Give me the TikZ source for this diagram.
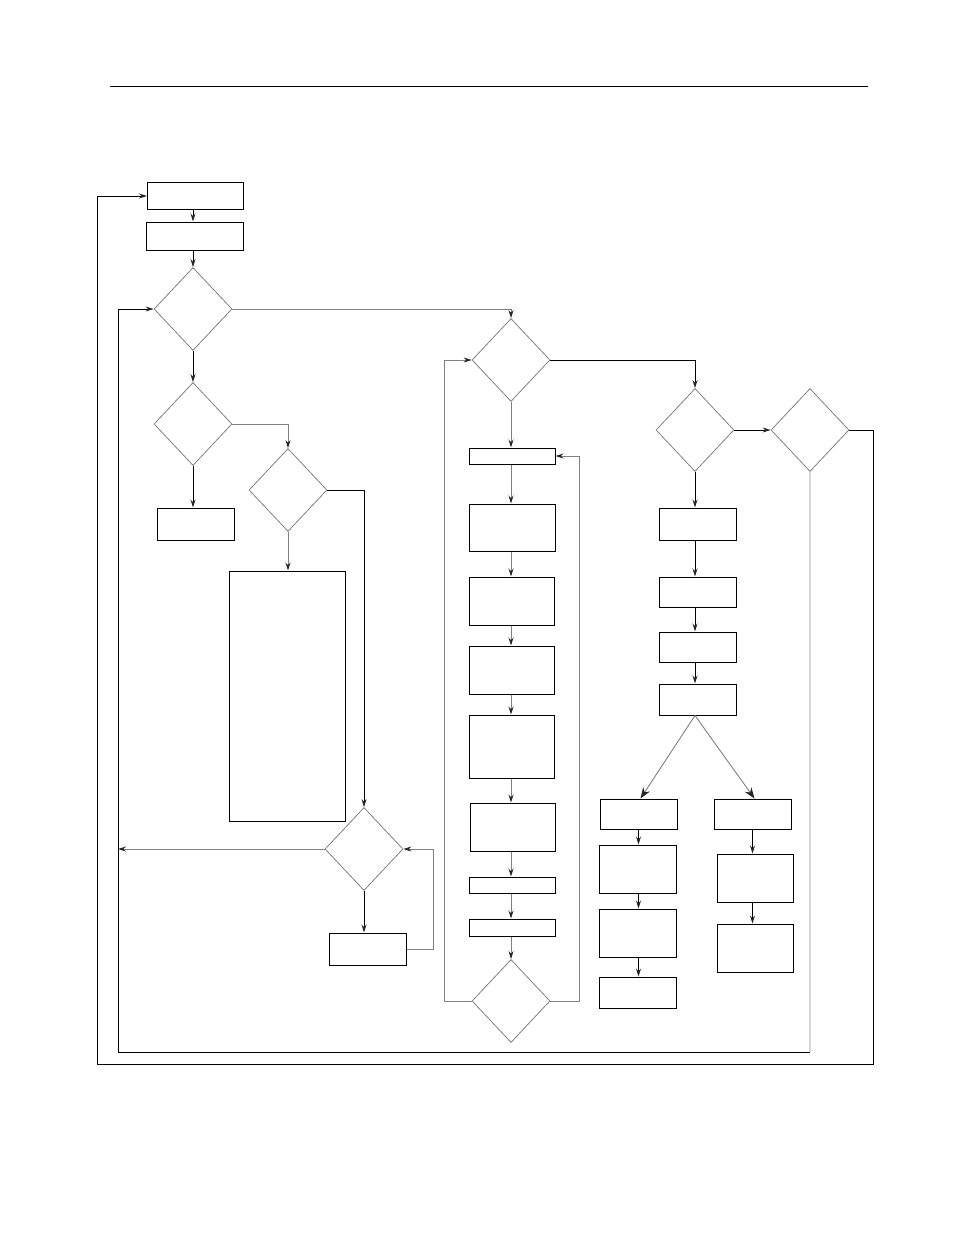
\documentclass[tikz,border=0pt]{standalone}
\usetikzlibrary{shapes.geometric,arrows.meta}
\definecolor{edgegray}{gray}{0.5}
\definecolor{palegray}{gray}{0.85}
\tikzset{
  blk/.style={draw,rectangle,inner sep=0pt,line width=1pt},
  dec/.style={draw=edgegray,diamond,inner sep=0pt,line width=0.8pt,
    minimum width=78pt,minimum height=83pt},
  flow/.style={->,line width=0.9pt},
}
\begin{document}
\begin{tikzpicture}[x=1pt,y=-1pt,>={Stealth[length=8pt,width=5pt,color=black!85]}]
    \useasboundingbox (0,0) rectangle (954,1235);
    \draw[line width=0.8pt] (110,86) -- (868,86);
    % left column
    \node[blk,minimum width=96pt,minimum height=27pt] (start) at (195.5,196) {};
    \node[blk,minimum width=97pt,minimum height=28pt] (init) at (194.5,236) {};
    \node[dec] (d1) at (193,309) {};
    \node[dec] (d3) at (193,424) {};
    \node[blk,minimum width=77pt,minimum height=32pt] (c) at (195.5,524) {};
    \node[dec] (d4) at (288,490) {};
    \node[blk,minimum width=116pt,minimum height=250pt] (e) at (287,696) {};
    \node[dec] (d5) at (364,849) {};
    \node[blk,minimum width=77pt,minimum height=32pt] (f) at (367.5,949) {};
    % middle column
    \node[dec] (d2) at (511,360) {};
    \node[blk,minimum width=86pt,minimum height=16pt] (g1) at (512,456) {};
    \node[blk,minimum width=86pt,minimum height=47pt] (g2) at (512,527.5) {};
    \node[blk,minimum width=85pt,minimum height=48pt] (g3) at (511.5,601) {};
    \node[blk,minimum width=85pt,minimum height=48pt] (g4) at (511.5,670) {};
    \node[blk,minimum width=85pt,minimum height=63pt] (g5) at (511.5,746.5) {};
    \node[blk,minimum width=85pt,minimum height=48pt] (g6) at (512.5,827) {};
    \node[blk,minimum width=86pt,minimum height=16pt] (g7) at (512,885) {};
    \node[blk,minimum width=86pt,minimum height=17pt] (g8) at (512,927.5) {};
    \node[dec] (d8) at (511,1001) {};
    % right column
    \node[dec] (d7) at (695,430) {};
    \node[dec] (d6) at (810,430) {};
    \node[blk,minimum width=77pt,minimum height=32pt] (h1) at (697.5,524) {};
    \node[blk,minimum width=77pt,minimum height=30pt] (h2) at (697.5,592) {};
    \node[blk,minimum width=77pt,minimum height=30pt] (h3) at (697.5,647) {};
    \node[blk,minimum width=77pt,minimum height=31pt] (h4) at (697.5,699.5) {};
    \node[blk,minimum width=77pt,minimum height=30pt] (i1) at (638.5,814) {};
    \node[blk,minimum width=77pt,minimum height=48pt] (i2) at (637.5,869) {};
    \node[blk,minimum width=77pt,minimum height=48pt] (i3) at (637.5,933) {};
    \node[blk,minimum width=77pt,minimum height=31pt] (i4) at (637.5,992.5) {};
    \node[blk,minimum width=77pt,minimum height=30pt] (j1) at (752.5,814) {};
    \node[blk,minimum width=76pt,minimum height=48pt] (j2) at (755,878) {};
    \node[blk,minimum width=76pt,minimum height=48pt] (j3) at (755,948) {};
    \coordinate (inner) at (118,1052);
    \coordinate (outer) at (97,1064);
    % connectors, left part
    \draw[flow] (d1.north |- start.south) -- (d1.north |- init.north);
    \draw[flow] (d1.north |- init.south) -- (d1.north);
    \draw[flow,edgegray] (d1.east) -| (d2.north);
    \draw[flow] (d1.south) -- (d3.north);
    \draw[flow] (d3.south) -- (d3.south |- c.north);
    \draw[flow,edgegray] (d3.east) -| (d4.north);
    \draw[flow,edgegray] (d4.south) -- (d4.south |- e.north);
    \draw[flow] (d4.east) -| (d5.north);
    \draw[flow] (d5.south) -- (d5.south |- f.north);
    \draw[flow,edgegray] (f.east) -- ++(27,0) |- (d5.east);
    \draw[flow,edgegray] (d5.west) -- (d5.west -| inner);
    % connectors, middle part
    \draw[flow] (d2.east) -| (d7.north);
    \draw[flow,edgegray] (d2.south) -- (d2.south |- g1.north);
    \foreach \a/\b in {g1/g2,g2/g3,g3/g4,g4/g5,g5/g6,g6/g7,g7/g8}
      \draw[flow,edgegray] (d2.south |- \a.south) -- (d2.south |- \b.north);
    \draw[flow,edgegray] (d2.south |- g8.south) -- (d8.north);
    \draw[flow,edgegray] (d8.east) -- ++(29,0) |- (g1.east);
    \draw[flow,edgegray] (d8.west) -- ++(-27,0) |- (d2.west);
    % connectors, right part
    \draw[flow] (d7.east) -- (d6.west);
    \draw[flow] (d7.south) -- (d7.south |- h1.north);
    \foreach \a/\b in {h1/h2,h2/h3,h3/h4}
      \draw[flow] (d7.south |- \a.south) -- (d7.south |- \b.north);
    \draw[flow,edgegray,>={Stealth[length=11pt,width=8pt,color=black!85]}] (d7.south |- h4.south) -- ([xshift=2pt]i1.north);
    \draw[flow,edgegray,>={Stealth[length=11pt,width=8pt,color=black!85]}] (d7.south |- h4.south) -- ([xshift=2pt]j1.north);
    \foreach \a/\b in {i1/i2,i2/i3,i3/i4}
      \draw[flow] (i1.south |- \a.south) -- (i1.south |- \b.north);
    \foreach \a/\b in {j1/j2,j2/j3}
      \draw[flow] (j1.south |- \a.south) -- (j1.south |- \b.north);
    % loops back
    \draw[line width=1.2pt,palegray] (d6.south) -- (d6.south |- inner);
    \draw[flow] (d6.south |- inner) -- (inner) |- (d1.west);
    \draw[flow] (d6.east) -- ++(24,0) |- (outer) |- (start.west);
\end{tikzpicture}
\end{document}
